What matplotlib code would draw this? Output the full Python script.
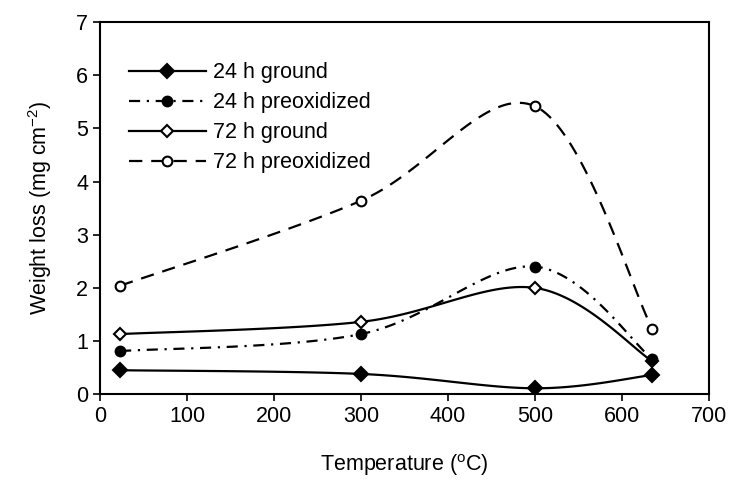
import numpy as np
import matplotlib
matplotlib.use("Agg")
import matplotlib.pyplot as plt

plt.rcParams["font.family"] = ["Liberation Sans", "DejaVu Sans"]
plt.rcParams["mathtext.fontset"] = "custom"
plt.rcParams["mathtext.rm"] = "Liberation Sans"
plt.rcParams["mathtext.default"] = "regular"

# data
temperature = [23, 300, 500, 635]
loss_24h_ground = [0.45, 0.38, 0.11, 0.36]
loss_24h_preox = [0.81, 1.13, 2.40, 0.66]
loss_72h_ground = [1.13, 1.36, 2.00, 0.62]
loss_72h_preox = [2.04, 3.64, 5.42, 1.23]
labels = ["24 h ground", "24 h preoxidized", "72 h ground", "72 h preoxidized"]


def smooth(x, y, n=40):
    """Excel-like smoothed line: cubic Bezier with Catmull-Rom control points."""
    p = np.column_stack([x, y]).astype(float)
    pts = np.vstack([p[0], p, p[-1]])
    out = []
    for i in range(1, len(pts) - 2):
        p0, p1, p2, p3 = pts[i - 1], pts[i], pts[i + 1], pts[i + 2]
        c1 = p1 + (p2 - p0) / 6.0
        c2 = p2 - (p3 - p1) / 6.0
        t = np.linspace(0, 1, n)[:, None]
        seg = ((1 - t) ** 3 * p1 + 3 * (1 - t) ** 2 * t * c1
               + 3 * (1 - t) * t ** 2 * c2 + t ** 3 * p2)
        out.append(seg if i == 1 else seg[1:])
    out = np.vstack(out)
    return out[:, 0], out[:, 1]


fig = plt.figure(figsize=(7.36, 4.83), dpi=100)
ax = fig.add_axes([0.136, 0.184, 0.827, 0.770])

styles = [
    dict(ls="-", marker="D", mfc="black", ms=7, z=4),
    dict(ls=(0, (5, 3, 1, 3)), marker="o", mfc="black", ms=7, z=5),
    dict(ls="-", marker="D", mfc="white", ms=6, z=3),
    dict(ls=(0, (6, 4)), marker="o", mfc="white", ms=7, z=3),
]
series = [loss_24h_ground, loss_24h_preox, loss_72h_ground, loss_72h_preox]

handles = []
for yvals, st, lab in zip(series, styles, labels):
    xs, ys = smooth(temperature, yvals)
    ax.plot(xs, ys, color="black", lw=1.6, ls=st["ls"], zorder=2)
    ax.plot(temperature, yvals, ls="none", marker=st["marker"], mfc=st["mfc"],
            mec="black", mew=1.5, ms=st["ms"], zorder=st["z"])
    h, = ax.plot([], [], color="black", lw=1.6, ls=st["ls"], marker=st["marker"],
                 mfc=st["mfc"], mec="black", mew=1.5, ms=st["ms"])
    handles.append(h)

ax.set_xlim(0, 700)
ax.set_ylim(0, 7)
ax.set_xticks(range(0, 701, 100))
ax.set_yticks(range(0, 8))
ax.tick_params(direction="out", length=5, width=1.2, labelsize=15.5)
for s in ax.spines.values():
    s.set_linewidth(1.5)

ax.set_xlabel("Temperature ($^{o}$C)", fontsize=15.5, labelpad=18)
ax.set_ylabel("Weight loss (mg cm$^{-2}$)", fontsize=15.5, labelpad=16)

ax.legend(handles, labels, loc="upper left", bbox_to_anchor=(0.015, 0.945),
          frameon=False, fontsize=15.5, numpoints=1, handlelength=3.6,
          handletextpad=0.3, labelspacing=0.42)

fig.savefig("out.png", dpi=100)
